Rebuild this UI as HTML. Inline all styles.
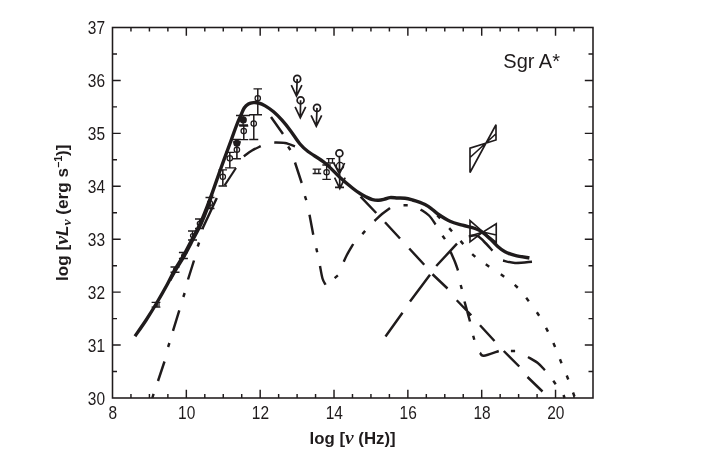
<!DOCTYPE html>
<html><head><meta charset="utf-8"><title>Sgr A* SED</title>
<style>
html,body{margin:0;padding:0;background:#fff;}
body{width:720px;height:465px;overflow:hidden;font-family:"Liberation Sans",sans-serif;}
svg{display:block;will-change:transform;}
svg text{font-family:"Liberation Sans",sans-serif;fill:#1f1b1c;}
</style></head><body>
<svg width="720" height="465" viewBox="0 0 720 465">
<rect width="720" height="465" fill="#fff"/>
<rect x="112.50" y="27.50" width="480.50" height="370.50" fill="none" stroke="#1f1b1c" stroke-width="1.55"/>
<path d="M130.96,27.50 v4.00 M130.96,398.00 v-4.00 M149.42,27.50 v4.00 M149.42,398.00 v-4.00 M167.88,27.50 v4.00 M167.88,398.00 v-4.00 M186.34,27.50 v8.20 M186.34,398.00 v-8.20 M204.80,27.50 v4.00 M204.80,398.00 v-4.00 M223.26,27.50 v4.00 M223.26,398.00 v-4.00 M241.72,27.50 v4.00 M241.72,398.00 v-4.00 M260.18,27.50 v8.20 M260.18,398.00 v-8.20 M278.64,27.50 v4.00 M278.64,398.00 v-4.00 M297.10,27.50 v4.00 M297.10,398.00 v-4.00 M315.56,27.50 v4.00 M315.56,398.00 v-4.00 M334.02,27.50 v8.20 M334.02,398.00 v-8.20 M352.48,27.50 v4.00 M352.48,398.00 v-4.00 M370.94,27.50 v4.00 M370.94,398.00 v-4.00 M389.40,27.50 v4.00 M389.40,398.00 v-4.00 M407.86,27.50 v8.20 M407.86,398.00 v-8.20 M426.32,27.50 v4.00 M426.32,398.00 v-4.00 M444.78,27.50 v4.00 M444.78,398.00 v-4.00 M463.24,27.50 v4.00 M463.24,398.00 v-4.00 M481.70,27.50 v8.20 M481.70,398.00 v-8.20 M500.16,27.50 v4.00 M500.16,398.00 v-4.00 M518.62,27.50 v4.00 M518.62,398.00 v-4.00 M537.08,27.50 v4.00 M537.08,398.00 v-4.00 M555.54,27.50 v8.20 M555.54,398.00 v-8.20 M574.00,27.50 v4.00 M574.00,398.00 v-4.00 M112.50,371.54 h4.50 M593.00,371.54 h-4.50 M112.50,345.07 h8.20 M593.00,345.07 h-8.20 M112.50,318.61 h4.50 M593.00,318.61 h-4.50 M112.50,292.14 h8.20 M593.00,292.14 h-8.20 M112.50,265.68 h4.50 M593.00,265.68 h-4.50 M112.50,239.21 h8.20 M593.00,239.21 h-8.20 M112.50,212.75 h4.50 M593.00,212.75 h-4.50 M112.50,186.28 h8.20 M593.00,186.28 h-8.20 M112.50,159.81 h4.50 M593.00,159.81 h-4.50 M112.50,133.35 h8.20 M593.00,133.35 h-8.20 M112.50,106.88 h4.50 M593.00,106.88 h-4.50 M112.50,80.42 h8.20 M593.00,80.42 h-8.20 M112.50,53.95 h4.50 M593.00,53.95 h-4.50" fill="none" stroke="#1f1b1c" stroke-width="1.45"/>
<path d="M135.00,336.20 C136.83,333.53 142.48,325.57 146.00,320.20 C149.52,314.83 152.52,310.03 156.10,304.00 C159.68,297.97 164.35,289.77 167.50,284.00 C170.65,278.23 172.29,274.20 175.00,269.40 C177.71,264.60 180.92,260.18 183.75,255.20 C186.58,250.22 189.29,244.70 192.00,239.50 C194.71,234.30 197.00,230.75 200.00,224.00 C203.00,217.25 206.50,208.33 210.00,199.00 C213.50,189.67 217.46,177.83 221.00,168.00 C224.54,158.17 228.67,147.08 231.25,140.00 C233.83,132.92 234.91,129.58 236.50,125.50 C238.09,121.42 239.52,118.42 240.80,115.50 C242.08,112.58 242.93,109.92 244.20,108.00 C245.47,106.08 246.87,104.90 248.40,104.00 C249.93,103.10 251.72,102.77 253.40,102.60 C255.08,102.43 256.53,102.45 258.50,103.00 C260.47,103.55 262.68,104.43 265.20,105.90 C267.72,107.37 270.80,109.42 273.60,111.80 C276.40,114.18 279.22,117.10 282.00,120.20 C284.78,123.30 287.30,126.43 290.30,130.40 C293.30,134.37 297.05,140.48 300.00,144.00 C302.95,147.52 303.83,148.33 308.00,151.50 C312.17,154.67 319.67,158.67 325.00,163.00 C330.33,167.33 335.33,173.25 340.00,177.50 C344.67,181.75 349.67,185.83 353.00,188.50 C356.33,191.17 357.79,192.08 360.00,193.50 C362.21,194.92 364.17,195.98 366.25,197.00 C368.33,198.02 370.42,199.07 372.50,199.60 C374.58,200.13 376.67,200.30 378.75,200.20 C380.83,200.10 383.12,199.43 385.00,199.00 C386.88,198.57 387.92,197.77 390.00,197.60 C392.08,197.43 395.00,197.88 397.50,198.00 C400.00,198.12 402.50,197.97 405.00,198.30 C407.50,198.63 410.00,199.32 412.50,200.00 C415.00,200.68 417.92,201.63 420.00,202.40 C422.08,203.17 423.17,203.62 425.00,204.60 C426.83,205.58 428.92,206.78 431.00,208.30 C433.08,209.83 434.33,211.59 437.50,213.75 C440.67,215.91 445.83,219.34 450.00,221.25 C454.17,223.16 458.33,223.99 462.50,225.20 C466.67,226.41 471.67,227.32 475.00,228.50 C478.33,229.68 480.00,230.59 482.50,232.30 C485.00,234.01 487.50,236.43 490.00,238.75 C492.50,241.07 495.00,244.07 497.50,246.25 C500.00,248.43 502.08,250.28 505.00,251.80 C507.92,253.33 510.93,254.37 515.00,255.40 C519.07,256.43 527.00,257.57 529.40,258.00" fill="none" stroke="#1f1b1c" stroke-width="3.4" stroke-linejoin="round"/>
<path d="M170.00,280.20 C170.93,278.53 173.17,274.33 175.60,270.20 C178.03,266.07 181.72,260.47 184.60,255.40 C187.48,250.33 190.18,244.98 192.90,239.80 C195.62,234.62 198.55,229.35 200.90,224.30 C203.25,219.25 205.15,214.47 207.00,209.50 C208.85,204.53 211.17,197.00 212.00,194.50" fill="none" stroke="#1f1b1c" stroke-width="3.2" stroke-linejoin="round"/>
<path d="M152.30,398.00 L153.60,393.80 M158.00,381.00 L164.50,361.50 M173.00,330.80 L179.30,310.30 M188.00,279.50 L194.00,260.50 M202.30,229.00 L216.80,198.00 M271.00,117.00 L283.00,134.00 M295.00,162.50 L301.70,183.00 M309.50,214.75 L313.25,234.75 M320.00,266.00 C320.42,268.08 321.58,275.38 322.50,278.50 C323.42,281.62 325.00,283.71 325.50,284.75 M343.75,261.75 C344.29,260.58 345.42,257.71 347.00,254.75 C348.58,251.79 352.21,245.79 353.25,244.00 M374.50,221.00 C375.75,219.83 379.42,216.17 382.00,214.00 C384.58,211.83 388.67,209.00 390.00,208.00 M420.60,209.40 C422.00,210.42 426.50,213.00 429.00,215.50 C431.50,218.00 434.50,222.92 435.60,224.40 M450.00,250.50 C450.83,252.42 453.67,258.67 455.00,262.00 C456.33,265.33 457.50,269.08 458.00,270.50 M464.50,301.50 L470.00,321.50 M480.00,352.75 C480.62,353.25 480.62,356.04 483.75,355.75 C486.88,355.46 496.25,351.79 498.75,351.00 M528.00,357.00 C529.58,357.96 534.67,360.55 537.50,362.75 C540.33,364.95 543.75,368.96 545.00,370.20 M563.50,395.00 L564.60,398.00 M243.75,156.25 C245.12,155.29 249.17,152.18 252.00,150.50 C254.83,148.82 259.29,146.92 260.75,146.20 M274.25,142.50 C276.04,142.58 281.54,142.38 285.00,143.00 C288.46,143.62 293.33,145.71 295.00,146.25 M360.60,196.60 L376.25,213.00 M385.00,222.25 L400.00,238.50 M409.25,248.50 L424.25,264.75 M432.50,274.25 L447.50,288.50 M456.75,300.25 L471.25,315.25 M480.00,325.25 L494.50,341.00 M503.75,351.00 L519.25,366.50 M527.50,377.00 L542.50,391.50 M385.50,336.50 L402.50,312.75 M410.00,301.50 L430.00,274.75 M436.25,266.00 L457.00,243.70 M468.75,236.30 C470.12,236.18 474.50,234.78 477.00,235.60 C479.50,236.42 481.17,238.75 483.75,241.25 C486.33,243.75 491.04,249.04 492.50,250.60 M503.00,260.50 C505.00,260.92 510.17,262.79 515.00,263.00 C519.83,263.21 529.17,261.96 532.00,261.75" fill="none" stroke="#1f1b1c" stroke-width="2.45"/>
<path d="M168.09,346.99 L169.41,343.01 M183.34,296.99 L184.66,293.01 M197.74,246.49 L199.06,242.51 M288.12,146.48 L290.38,150.02 M304.94,196.21 L306.26,200.19 M316.29,248.20 L317.21,252.30 M334.64,278.10 L337.86,275.40 M362.36,234.08 L365.14,230.92 M403.50,205.30 L407.70,205.30 M442.53,235.69 L444.97,239.11 M460.69,284.98 L461.81,289.02 M473.19,335.73 L474.31,339.77 M510.90,351.00 L515.10,351.00 M553.28,380.79 L555.72,384.21 M437.33,215.36 L440.17,218.44 M449.19,228.19 L452.01,231.31 M460.50,240.94 L463.30,244.06 M472.19,254.10 L475.31,256.90 M485.78,264.30 L489.22,266.70 M500.80,274.27 L504.20,276.73 M514.74,284.85 L517.76,287.75 M526.20,297.85 L528.80,301.15 M536.86,312.23 L539.14,315.77 M546.03,327.89 L547.97,331.61 M553.41,343.08 L555.09,346.92 M559.96,359.31 L561.54,363.19 M566.74,375.54 L568.26,379.46 M573.03,392.53 L574.47,396.47" fill="none" stroke="#1f1b1c" stroke-width="2.45"/>
<path d="M470.00,220.60 L470.00,241.90 L483.00,232.00 L470.00,220.60Z M496.25,223.75 L496.25,242.50 L483.00,232.00 L496.25,223.75Z M470.00,236.00 L483.00,232.00 L496.25,235.00 M470.00,148.10 L470.00,172.50 L496.00,124.75 L496.00,140.00 L470.00,148.10Z M470.00,157.50 L496.00,133.75" fill="none" stroke="#1f1b1c" stroke-width="1.65" stroke-linejoin="miter"/>
<path d="M156.00,302.40 V307.20 M151.60,302.40 h8.80 M151.60,307.20 h8.80 M175.00,267.00 V272.25 M170.50,267.00 h9.00 M170.50,272.25 h9.00 M183.40,252.50 V258.50 M178.90,252.50 h9.00 M178.90,258.50 h9.00 M192.50,231.00 V240.00 M188.00,231.00 h9.00 M188.00,240.00 h9.00 M199.50,219.00 V228.50 M195.00,219.00 h9.00 M195.00,228.50 h9.00 M210.00,197.50 V208.50 M205.50,197.50 h9.00 M205.50,208.50 h9.00 M222.80,169.90 V186.00 M218.55,169.90 h8.50 M218.55,186.00 h8.50 M229.80,152.30 V167.80 M225.05,152.30 h9.50 M225.05,167.80 h9.50 M236.90,142.00 V158.75 M232.90,142.00 h8.00 M232.90,158.75 h8.00 M243.75,126.00 V139.60 M239.25,126.00 h9.00 M239.25,139.60 h9.00 M253.75,114.75 V139.50 M249.25,114.75 h9.00 M249.25,139.50 h9.00 M257.75,88.90 V114.75 M253.50,88.90 h8.50 M253.50,114.75 h8.50 M326.60,165.00 V179.40 M322.35,165.00 h8.50 M322.35,179.40 h8.50 M157.2,302.4 V307.2 M159,302.4 V307.2 M236,115.5 H250 M226,167.8 H236 M238.75,125 H248 M243.1,115.5 V125 M232,139.5 H241 M326.35,158.60 h8.5 M326.35,163.00 h8.5 M328.70,158.60 v4.4 M332.50,158.60 v4.4 M312.65,169.10 h8.5 M312.65,173.50 h8.5 M315.00,169.10 v4.4 M318.80,169.10 v4.4" fill="none" stroke="#1f1b1c" stroke-width="1.3"/>
<circle cx="156.00" cy="304.80" r="0.10" fill="none" stroke="#1f1b1c" stroke-width="1.25"/>
<circle cx="175.00" cy="269.40" r="1.50" fill="none" stroke="#1f1b1c" stroke-width="1.25"/>
<circle cx="183.40" cy="255.60" r="1.80" fill="none" stroke="#1f1b1c" stroke-width="1.25"/>
<circle cx="192.50" cy="235.50" r="2.00" fill="none" stroke="#1f1b1c" stroke-width="1.25"/>
<circle cx="199.50" cy="223.50" r="2.20" fill="none" stroke="#1f1b1c" stroke-width="1.25"/>
<circle cx="210.00" cy="203.00" r="2.50" fill="none" stroke="#1f1b1c" stroke-width="1.25"/>
<circle cx="222.80" cy="176.80" r="2.70" fill="none" stroke="#1f1b1c" stroke-width="1.25"/>
<circle cx="229.80" cy="158.30" r="2.70" fill="none" stroke="#1f1b1c" stroke-width="1.25"/>
<circle cx="236.90" cy="149.75" r="2.70" fill="none" stroke="#1f1b1c" stroke-width="1.25"/>
<circle cx="243.75" cy="131.10" r="2.70" fill="none" stroke="#1f1b1c" stroke-width="1.25"/>
<circle cx="253.75" cy="123.60" r="2.70" fill="none" stroke="#1f1b1c" stroke-width="1.25"/>
<circle cx="257.75" cy="98.25" r="2.70" fill="none" stroke="#1f1b1c" stroke-width="1.25"/>
<circle cx="326.60" cy="172.25" r="2.70" fill="none" stroke="#1f1b1c" stroke-width="1.25"/>
<path d="M156.00,302.40 V307.20 M175.00,267.00 V272.25 M183.40,252.50 V258.50 M192.50,231.00 V240.00 M199.50,219.00 V228.50 M210.00,197.50 V208.50 M222.80,169.90 V186.00 M229.80,152.30 V167.80 M236.90,142.00 V158.75 M243.75,126.00 V139.60 M253.75,114.75 V139.50 M257.75,88.90 V114.75 M326.60,165.00 V179.40" fill="none" stroke="#1f1b1c" stroke-width="0.9"/>
<circle cx="243.3" cy="119.9" r="3.55" fill="#1f1b1c"/>
<circle cx="236.9" cy="143.2" r="3.55" fill="#1f1b1c"/>
<path d="M236,168 L224.6,185.4" fill="none" stroke="#1f1b1c" stroke-width="2.1"/>
<circle cx="297.20" cy="78.90" r="3.45" fill="none" stroke="#1f1b1c" stroke-width="1.75"/>
<circle cx="300.60" cy="100.30" r="3.45" fill="none" stroke="#1f1b1c" stroke-width="1.75"/>
<circle cx="317.00" cy="107.90" r="3.45" fill="none" stroke="#1f1b1c" stroke-width="1.75"/>
<circle cx="339.40" cy="153.20" r="3.45" fill="none" stroke="#1f1b1c" stroke-width="1.75"/>
<path d="M297.20,78.90 L296.50,96.00 M291.30,85.10 L296.50,96.00 L301.90,85.10 M300.60,100.30 L300.30,117.80 M295.10,106.90 L300.30,117.80 L305.70,106.90 M317.00,107.90 L316.30,126.20 M311.10,115.30 L316.30,126.20 L321.70,115.30 M339.40,156.70 L339.80,188.50 M334.60,177.60 L339.80,188.50 L345.20,177.60 M333.75,163 L339.4,173.75 L344.6,163 M335,187.3 H344" fill="none" stroke="#1f1b1c" stroke-width="1.7"/>
<circle cx="340" cy="166" r="3.6" fill="none" stroke="#1f1b1c" stroke-width="1.3"/>
<text transform="translate(105,404.70) scale(0.875,1)" text-anchor="end" font-size="17.7">30</text>
<text transform="translate(105,351.77) scale(0.875,1)" text-anchor="end" font-size="17.7">31</text>
<text transform="translate(105,298.84) scale(0.875,1)" text-anchor="end" font-size="17.7">32</text>
<text transform="translate(105,245.91) scale(0.875,1)" text-anchor="end" font-size="17.7">33</text>
<text transform="translate(105,192.98) scale(0.875,1)" text-anchor="end" font-size="17.7">34</text>
<text transform="translate(105,140.05) scale(0.875,1)" text-anchor="end" font-size="17.7">35</text>
<text transform="translate(105,87.12) scale(0.875,1)" text-anchor="end" font-size="17.7">36</text>
<text transform="translate(105,34.19) scale(0.875,1)" text-anchor="end" font-size="17.7">37</text>
<text transform="translate(112.80,418.8) scale(0.875,1)" text-anchor="middle" font-size="17.7">8</text>
<text transform="translate(186.64,418.8) scale(0.875,1)" text-anchor="middle" font-size="17.7">10</text>
<text transform="translate(260.48,418.8) scale(0.875,1)" text-anchor="middle" font-size="17.7">12</text>
<text transform="translate(334.32,418.8) scale(0.875,1)" text-anchor="middle" font-size="17.7">14</text>
<text transform="translate(408.16,418.8) scale(0.875,1)" text-anchor="middle" font-size="17.7">16</text>
<text transform="translate(482.00,418.8) scale(0.875,1)" text-anchor="middle" font-size="17.7">18</text>
<text transform="translate(555.84,418.8) scale(0.875,1)" text-anchor="middle" font-size="17.7">20</text>
<text x="503.3" y="67.8" font-size="20">Sgr A*</text>
<text x="309.6" y="443.6" font-size="16.9" font-weight="bold" textLength="86" lengthAdjust="spacingAndGlyphs">log [<tspan font-family="Liberation Serif" font-style="italic" font-weight="bold" font-size="19.5">ν</tspan> (Hz)]</text>
<text transform="translate(68,281) rotate(-90)" font-size="16.9" font-weight="bold" textLength="136.5" lengthAdjust="spacingAndGlyphs">log [<tspan font-family="Liberation Serif" font-style="italic" font-weight="bold" font-size="19.5">ν</tspan><tspan font-style="italic">L</tspan><tspan font-family="Liberation Serif" font-style="italic" font-weight="bold" font-size="13.5" dy="3">ν</tspan><tspan dy="-3"> (erg s</tspan><tspan font-size="10.5" dy="-6">−1</tspan><tspan dy="6">)]</tspan></text>
</svg>
</body></html>
